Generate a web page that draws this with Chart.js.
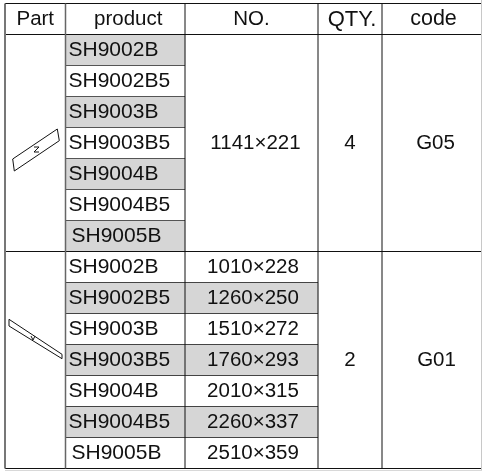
<!DOCTYPE html>
<html>
<head>
<meta charset="utf-8">
<style>
    html, body { margin: 0; padding: 0; background: #fff; }
    canvas { display: block; }
</style>
<script src="https://cdn.jsdelivr.net/npm/chart.js@4/dist/chart.umd.min.js"></script>
</head>
<body>
<canvas id="chart" width="482" height="471"></canvas>
<script>
//Table content
const headers = ['Part', 'product', 'NO.', 'QTY.', 'code'];
const productsA = ['SH9002B', 'SH9002B5', 'SH9003B', 'SH9003B5', 'SH9004B', 'SH9004B5', 'SH9005B'];
const productsB = ['SH9002B', 'SH9002B5', 'SH9003B', 'SH9003B5', 'SH9004B', 'SH9004B5', 'SH9005B'];
const sizesB = ['1010×228', '1260×250', '1510×272', '1760×293', '2010×315', '2260×337', '2510×359'];
const sizeA = '1141×221';
const qtyA = '4';
const qtyB = '2';
const codeA = 'G05';
const codeB = 'G01';

//Column edges on the x scale
const colEdges = [0, 60.5, 180, 313, 377, 476];

const rowLabels = ['header'].concat(productsA, productsB);
const font = "'Liberation Sans', Arial, sans-serif";

//Grey cells
const productShade = rowLabels.map((l, i) => i > 0 && i % 2 === 1 ? [colEdges[1], colEdges[2]] : null);
const sizeShade = rowLabels.map((l, i) => i > 7 && i % 2 === 1 ? [colEdges[2], colEdges[3]] : null);

const tablePlugin = {
    id: 'table',
    afterDatasetsDraw(chart) {
        const c = chart.ctx;
        const x = chart.scales.x;
        const y = chart.scales.y;
        const band = y.getPixelForValue(1) - y.getPixelForValue(0);
        const rowTop = i => y.getPixelForValue(0) - band / 2 + band * i;
        const px = i => x.getPixelForValue(colEdges[i]);

        const line = (x1, y1, x2, y2, color, w) => {
            c.strokeStyle = color;
            c.lineWidth = w;
            c.beginPath();
            c.moveTo(x1, y1);
            c.lineTo(x2, y2);
            c.stroke();
        };

        c.save();

        //Outer light edges
        line(481.5, 0, 481.5, 471, '#c8c8c8', 1);
        line(5, 470.5, 482, 470.5, '#d8d8d8', 1);

        //Row lines inside the first block, product column only
        for (let i = 2; i <= 7; i++) {
            line(px(1), rowTop(i), px(2), rowTop(i), '#555', 1);
        }
        //Row lines inside the second block, product and NO. columns
        for (let i = 9; i <= 14; i++) {
            line(px(1), rowTop(i), px(3), rowTop(i), '#444', 1);
        }

        //Full width lines
        [0, 1, 8, 15].forEach(i => line(px(0), rowTop(i), 481, rowTop(i), '#111', 1));

        //Column lines
        line(px(0), rowTop(0), px(0), rowTop(15), '#777', 2);
        line(px(1), rowTop(0), px(1), rowTop(15), '#666', 1.5);
        [2, 3, 4].forEach(i => line(px(i), rowTop(0), px(i), rowTop(15), '#111', 1));

        //Text
        c.fillStyle = '#111';
        c.textBaseline = 'middle';
        const rowMid = i => rowTop(i) + band / 2 + 0.5;
        const mid = (i, nudge) => (px(i) + px(i + 1)) / 2 + nudge;

        c.textAlign = 'center';
        const headNudge = [0, 3, 0, 2, 2];
        const headSize = [20.5, 20.5, 20.5, 22, 21.5];
        headers.forEach((h, i) => {
            c.font = headSize[i] + 'px ' + font;
            c.fillText(h, mid(i, headNudge[i]), rowMid(0));
        });

        c.font = '20.5px ' + font;
        c.fillText(sizeA, mid(2, 4), rowMid(4));
        c.fillText(qtyA, mid(3, 0), rowMid(4));
        c.fillText(codeA, mid(4, 4), rowMid(4));
        c.fillText(qtyB, mid(3, 0), rowMid(11));
        c.fillText(codeB, mid(4, 5), rowMid(11));
        sizesB.forEach((s, i) => c.fillText(s, mid(2, 1.5), rowMid(i + 8)));

        c.textAlign = 'left';
        c.font = '21px ' + font;
        productsA.forEach((p, i) => c.fillText(p, px(1) + (i === 6 ? 6 : 3), rowMid(i + 1)));
        productsB.forEach((p, i) => c.fillText(p, px(1) + (i === 6 ? 6 : 3), rowMid(i + 8)));

        //Part icons
        c.strokeStyle = '#111';
        c.lineWidth = 1;
        c.beginPath();
        c.moveTo(12.7, 159); c.lineTo(57.3, 129); c.lineTo(59.3, 140.7); c.lineTo(14.3, 171); c.closePath();
        c.moveTo(34, 147); c.lineTo(39, 147); c.lineTo(34, 152); c.lineTo(39, 152);
        c.stroke();
        c.beginPath();
        c.moveTo(9, 319.3); c.lineTo(62, 354.3); c.lineTo(62, 358.7); c.lineTo(9, 326); c.closePath();
        c.moveTo(31, 336); c.lineTo(33, 340); c.lineTo(35, 336);
        c.stroke();

        c.restore();
    }
};

new Chart(document.getElementById('chart').getContext('2d'), {
    type: 'bar',
    data: {
        labels: rowLabels,
        datasets: [
            { data: productShade, backgroundColor: '#d6d6d6', borderWidth: 0, barPercentage: 1, categoryPercentage: 1, grouped: false },
            { data: sizeShade, backgroundColor: '#d6d6d6', borderWidth: 0, barPercentage: 1, categoryPercentage: 1, grouped: false }
        ]
    },
    options: {
        indexAxis: 'y',
        responsive: false,
        animation: false,
        layout: { padding: { left: 5, right: 1, top: 3.5, bottom: 2.5 } },
        scales: {
            x: { type: 'linear', min: 0, max: 476, display: false },
            y: { type: 'category', display: false }
        },
        plugins: {
            legend: { display: false },
            tooltip: { enabled: false }
        }
    },
    plugins: [tablePlugin]
});
</script>
</body>
</html>
